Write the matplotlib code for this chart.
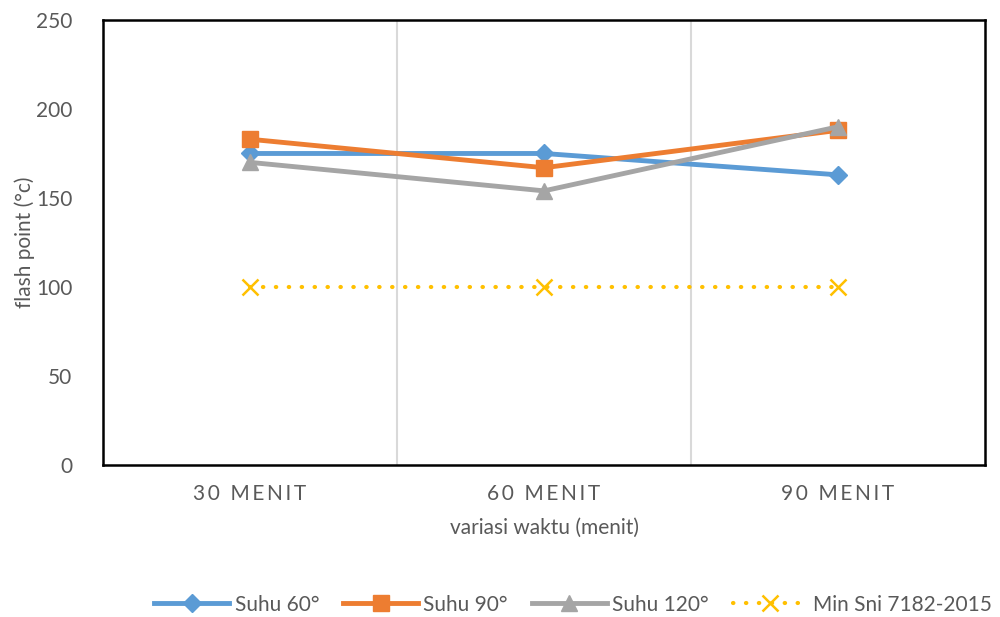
import matplotlib
matplotlib.use("Agg")
import matplotlib.pyplot as plt

plt.rcParams['font.family'] = ['Lato', 'DejaVu Sans']

categories = ["30 MENIT", "60 MENIT", "90 MENIT"]
suhu60 = [175, 175, 163]
suhu90 = [183, 167, 188]
suhu120 = [170, 154, 190]
min_sni = [100, 100, 100]

def spaced(s):
    return "\u2009".join(s)

fig = plt.figure(figsize=(10, 6.17), dpi=100)
ax = fig.add_axes([0.103, 0.2464, 0.882, 0.7212])

x = list(range(len(categories)))
ax.plot(x, suhu60, color='#5B9BD5', lw=3.5, marker='D', ms=9, label='Suhu 60°', zorder=3)
ax.plot(x, suhu90, color='#ED7D31', lw=3.5, marker='s', ms=12, label='Suhu 90°', zorder=3)
ax.plot(x, suhu120, color='#A5A5A5', lw=3.5, marker='^', ms=12, label='Suhu 120°', zorder=4)
ax.plot(x, min_sni, color='#FFC000', lw=3, ls=(0, (0.1, 3.0)), dash_capstyle='round',
        marker='x', ms=11, mew=1.8, label='Min Sni 7182-2015', zorder=3)

ax.set_xlim(-0.5, len(categories) - 0.5)
ax.set_ylim(0, 250)
ax.set_yticks([0, 50, 100, 150, 200, 250])
ax.set_xticks(x)
ax.set_xticklabels([spaced(c) for c in categories])
for b in [0.5, 1.5]:
    ax.axvline(b, color='#D9D9D9', lw=1.5, zorder=1)

for s in ax.spines.values():
    s.set_color('black')
    s.set_linewidth(1.8)

ax.tick_params(axis='both', length=0, colors='#595959', labelsize=15)
ax.tick_params(axis='y', pad=22)
ax.tick_params(axis='x', pad=14)

ax.set_xlabel('variasi waktu (menit)', fontsize=15, color='#595959', labelpad=10)
ax.set_ylabel('flash point (°c)', fontsize=15, color='#595959', labelpad=1)

leg = fig.legend(loc='center', bbox_to_anchor=(0.573, 0.02), ncol=4, frameon=False,
                 fontsize=15, handlelength=3.6, columnspacing=1.15, handletextpad=0.25)
for t in leg.get_texts():
    t.set_color('#595959')

fig.savefig('out.png', dpi=100)
